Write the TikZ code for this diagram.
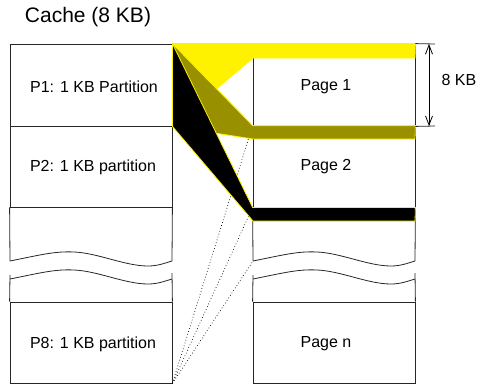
\documentclass[tikz,border=0pt]{standalone}
\usepackage{fontspec}
\setmainfont{Liberation Sans}
\usetikzlibrary{arrows.meta}
\definecolor{bandolive}{RGB}{153,144,0}
% wavy break line across one column, 162pt wide, starting at the given point
\newcommand\breakwave[1]{%
  \draw[edge, shift={#1}] (0,0) .. controls (30,-6) and (45,-10) .. (64,-9)
      .. controls (88,-8) and (115,5) .. (138,5)
      .. controls (148,5) and (155,2) .. (162,0);}
\begin{document}
\begin{tikzpicture}[x=1pt,y=-1pt,
  cell/.style={draw=black!85, line width=0.8pt, minimum width=162pt, inner sep=0pt},
  lbl/.style={font=\fontsize{16}{19}\selectfont, inner sep=0pt},
  edge/.style={draw=black!85, line width=0.8pt},
  band/.style={draw=yellow, line width=0.8pt, line join=miter},
  link/.style={line width=0.7pt, dash pattern=on 0.7pt off 2.3pt}]
\useasboundingbox (0,0) rectangle (478,386);

% title
\node[font=\fontsize{21}{25}\selectfont, inner sep=0pt] (title) at (88,17) {Cache (8 KB)};

% cache partitions (left column)
\node[cell, minimum height=82pt] (P1) at (91,85) {};
\node[cell, minimum height=81pt] (P2) at (91,166.5) {};
\node[cell, minimum height=81pt] (P8) at (91,342.5) {};
\draw[edge] (P2.south west) -- (10,261);
\draw[edge] (P2.south east) -- (172,261);
\breakwave{(10,261)}
\breakwave{(10,279)}
\draw[edge] (10,275) -- (P8.north west);
\draw[edge] (172,273) -- (P8.north east);

% memory pages (right column)
\node[cell, minimum height=82pt] (page1) at (334,85) {};
\node[cell, minimum height=81pt] (page2) at (334,166.5) {};
\node[cell, minimum height=81pt] (pagen) at (334,342.5) {};
\coordinate (rbreak) at (253,261);
\draw[edge] (page2.south west) -- (rbreak);
\draw[edge] (page2.south east) -- (415,261);
\breakwave{(253,261)}
\breakwave{(253,279)}
\draw[edge] (253,275) -- (pagen.north west);
\draw[edge] (415,273) -- (pagen.north east);

% labels
\node[lbl] (t1) at (94,87) {P1: 1 KB Partition};
\node[lbl] (t2) at (93,167) {P2: 1 KB partition};
\node[lbl] (t8) at (93,344) {P8: 1 KB partition};
\node[lbl] (u1) at (326,87) {Page 1};
\node[lbl] (u2) at (326,167) {Page 2};
\node[lbl] (un) at (326,344) {Page n};

% mappings from the last partition
\draw[link] (P8.south east) -- (page2.north west);
\draw[link] (P8.south east) -- (page2.south west);
\draw[link] (P8.south east) -- (rbreak);

% bands mapping P1 onto pages
\coordinate (a1) at (253,58);  \coordinate (a2) at (415,58);
\coordinate (b1) at (253,139); \coordinate (b2) at (415,139);
\coordinate (c1) at (253,221); \coordinate (c2) at (415,221);
\filldraw[band, fill=yellow] (P1.north east) -- (page1.north east) -- (a2) -- (a1) -- (P1.south east) -- cycle;
\filldraw[band, fill=bandolive] (P1.north east) -- (page2.north west) -- (page2.north east) -- (b2) -- (b1) -- (P1.south east) -- cycle;
\filldraw[band, fill=black] (P1.north east) -- (page2.south west) -- (page2.south east) -- (c2) -- (c1) -- (P1.south east) -- cycle;

% size of one page
\coordinate (d1) at (429,44);
\coordinate (d2) at (429,126);
\draw[edge] (page1.north east) -- (435,44);
\draw[edge] (page1.south east) -- (435,126);
\draw[line width=0.8pt, {Straight Barb[length=9pt,width=7pt]}-{Straight Barb[length=9pt,width=7pt]}] (d1) -- (d2);
\node[lbl] (size) at (459,80) {8 KB};
\end{tikzpicture}
\end{document}
